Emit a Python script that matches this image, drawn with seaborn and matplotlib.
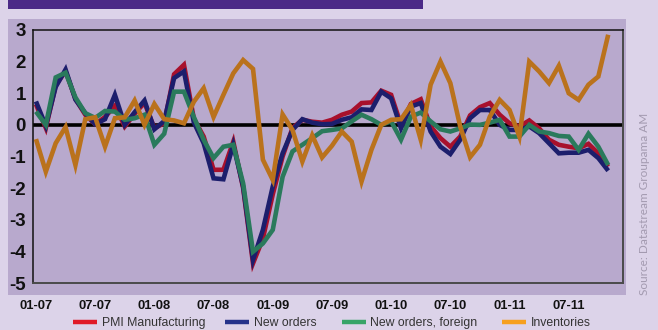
import matplotlib
matplotlib.use("Agg")
import matplotlib.pyplot as plt
import matplotlib.patches as mpatches
from matplotlib.lines import Line2D
import numpy as np
import pandas as pd
import seaborn as sns

# Monthly diffusion-index changes, Jan 2007 - Nov 2011
pmi_manufacturing = [0.65, -0.10, 1.25, 1.70, 0.82, 0.32, 0.02, 0.25, 0.60, -0.05,
                     0.35, 0.70, -0.10, 0.05, 1.60, 1.90, 0.20, -0.37, -1.42, -1.42,
                     -0.53, -2.00, -4.38, -3.60, -2.20, -1.00, -0.10, 0.16, 0.10, 0.07,
                     0.16, 0.32, 0.42, 0.69, 0.71, 1.08, 0.95, 0.00, 0.66, 0.81,
                     -0.05, -0.42, -0.69, -0.37, 0.30, 0.56, 0.69, 0.32, 0.05, -0.05,
                     0.14, -0.11, -0.47, -0.63, -0.69, -0.74, -0.60, -0.90, -1.32]
new_orders = [0.74, -0.03, 1.20, 1.75, 0.80, 0.37, 0.02, 0.18, 0.95, 0.00,
              0.40, 0.77, -0.14, 0.12, 1.48, 1.69, 0.08, -0.58, -1.69, -1.72,
              -0.63, -1.95, -4.27, -3.32, -1.95, -0.90, -0.16, 0.18, 0.07, 0.02,
              0.03, 0.16, 0.24, 0.49, 0.47, 1.05, 0.84, -0.11, 0.58, 0.69,
              -0.21, -0.69, -0.92, -0.47, 0.21, 0.47, 0.47, 0.00, -0.16, -0.16,
              -0.05, -0.26, -0.58, -0.90, -0.88, -0.88, -0.79, -1.05, -1.45]
new_orders_foreign = [0.42, 0.00, 1.50, 1.65, 0.87, 0.37, 0.22, 0.44, 0.42, 0.16,
                      0.21, 0.32, -0.63, -0.28, 1.05, 1.05, 0.25, -0.47, -1.05, -0.69,
                      -0.63, -1.85, -4.01, -3.75, -3.32, -1.64, -0.84, -0.63, -0.42, -0.20,
                      -0.16, -0.11, 0.11, 0.32, 0.18, 0.00, 0.11, -0.47, 0.26, 0.39,
                      0.11, -0.14, -0.21, -0.11, 0.01, 0.00, 0.07, 0.16, -0.37, -0.37,
                      0.00, -0.21, -0.26, -0.35, -0.37, -0.79, -0.28, -0.69, -1.27]
inventories = [-0.45, -1.48, -0.58, -0.07, -1.27, 0.18, 0.24, -0.69, 0.21, 0.24,
               0.77, 0.00, 0.66, 0.18, 0.14, 0.05, 0.73, 1.16, 0.25, 0.95,
               1.63, 2.05, 1.77, -1.10, -1.74, 0.33, -0.16, -1.16, -0.33, -1.03,
               -0.66, -0.21, -0.53, -1.79, -0.79, 0.00, 0.16, 0.18, 0.63, -0.47,
               1.27, 2.00, 1.32, -0.05, -1.02, -0.63, 0.26, 0.79, 0.47, -0.37,
               2.00, 1.69, 1.32, 1.87, 1.00, 0.79, 1.27, 1.53, 2.85]

series_names = ["PMI Manufacturing", "New orders", "New orders, foreign", "Inventories"]
tick_labels = ["01-07", "07-07", "01-08", "07-08", "01-09",
               "07-09", "01-10", "07-10", "01-11", "07-11"]
y_ticks = [3, 2, 1, 0, -1, -2, -3, -4, -5]

line_colors = ["#a8102c", "#1c1e6c", "#2a7a5c", "#ba721c"]
legend_colors = ["#e01a28", "#25328a", "#38a468", "#f6a020"]

frames = []
for name, vals in zip(series_names, [pmi_manufacturing, new_orders,
                                     new_orders_foreign, inventories]):
    frames.append(pd.DataFrame({"month": np.arange(len(vals)), "value": vals,
                                "series": name}))
df = pd.concat(frames, ignore_index=True)

sns.set_theme(style="white")
plt.rcParams["font.family"] = ["Liberation Sans", "DejaVu Sans"]

BG = "#dcd3e9"
PANEL = "#b8a9cd"
W, H = 658, 330

fig = plt.figure(figsize=(W / 100, H / 100), dpi=100, facecolor=BG)

# backdrop panel and header bar
fig.patches.append(mpatches.Rectangle((8 / W, 35 / H), 618 / W, 276 / H,
                                      transform=fig.transFigure, facecolor=PANEL,
                                      edgecolor="none", zorder=-5))
fig.patches.append(mpatches.Rectangle((8 / W, 321 / H), 415 / W, 9 / H,
                                      transform=fig.transFigure, facecolor="#4b2987",
                                      edgecolor="none", zorder=-5))

ax = fig.add_axes([33 / W, 47 / H, 590 / W, 253 / H])
ax.set_zorder(2)
ax.set_facecolor(PANEL)

ax.axhline(0, color="black", lw=2.6, zorder=1)
sns.lineplot(data=df, x="month", y="value", hue="series", hue_order=series_names,
             palette=line_colors, linewidth=3.3, legend=False, ax=ax, zorder=2)
for ln in ax.lines[1:]:
    ln.set_solid_capstyle("butt")
    ln.set_solid_joinstyle("miter")

ax.set_xlim(-0.3, 59.5)
ax.set_ylim(-5, 3)
ax.set_xlabel("")
ax.set_ylabel("")

# one label every six months
ax.set_xticks(np.arange(len(tick_labels)) * 6)
ax.set_xticklabels(tick_labels, fontsize=9.4, fontweight="bold", color="#111111")
ax.set_yticks(y_ticks)
ax.set_yticklabels([str(v) for v in y_ticks], fontsize=13.5, fontweight="bold",
                   color="#111111", family=["Liberation Sans Narrow", "Liberation Sans"])
ax.tick_params(axis="x", length=0, pad=12.5)
ax.tick_params(axis="y", length=0, pad=5)

for side in ["top", "left"]:
    ax.spines[side].set_color("#111111")
    ax.spines[side].set_linewidth(1.1)
for side in ["right", "bottom"]:
    ax.spines[side].set_color("#4a4a4a")
    ax.spines[side].set_linewidth(1.4)

# legend row: coloured bar followed by its label
legend_handle_x = [73, 225, 342, 502]
for name, col, hx in zip(series_names, legend_colors, legend_handle_x):
    fig.add_artist(Line2D([hx / W, (hx + 24) / W], [8 / H, 8 / H], color=col,
                          lw=3.2, solid_capstyle="butt", transform=fig.transFigure))
    fig.text((hx + 28.5) / W, 3.6 / H, name, fontsize=8.8, color="#333333",
             ha="left", va="baseline")

fig.text(645 / W, 35 / H, "Source: Datastream Groupama AM", rotation=90,
         ha="center", va="bottom", fontsize=8.5, color="#a39ab0",
         family=["Lato", "DejaVu Sans"])

fig.savefig("out.png", dpi=100, facecolor=BG)
